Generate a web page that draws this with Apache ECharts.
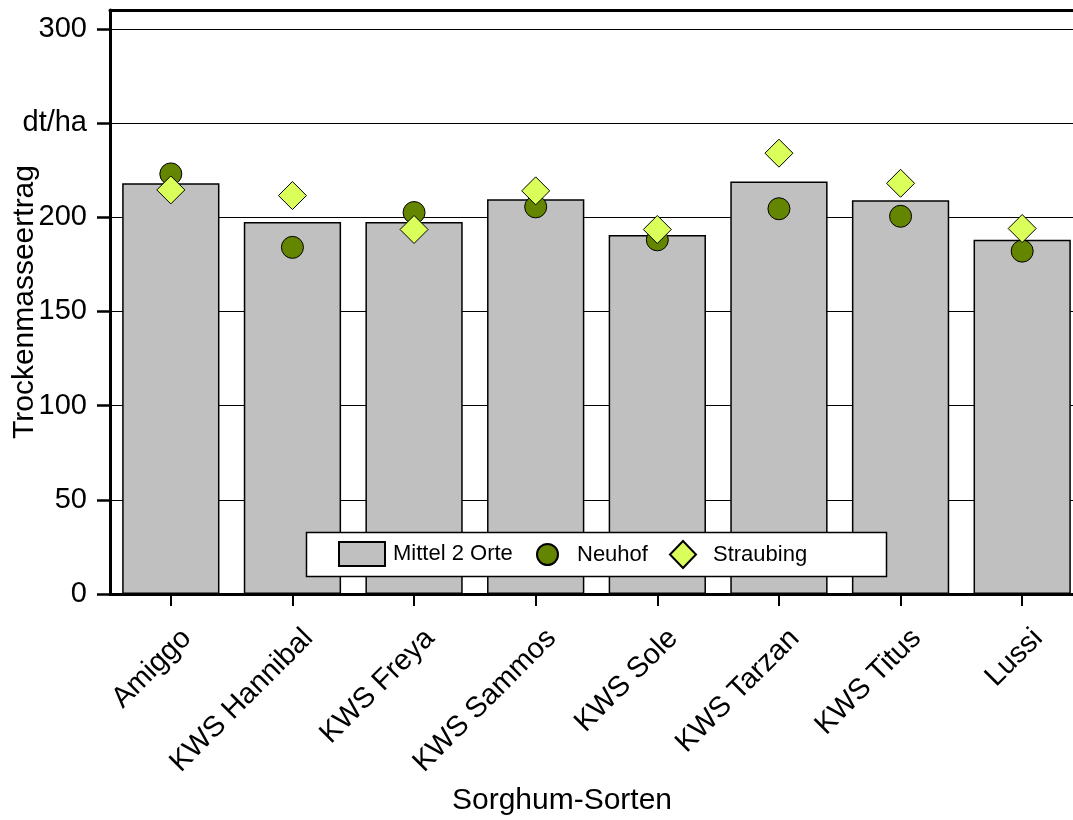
<!DOCTYPE html>
<html>
<head>
<meta charset="utf-8">
<script src="https://cdn.jsdelivr.net/npm/echarts@6/dist/echarts.min.js"></script>
<style>
html,body{margin:0;padding:0;background:#fff;}
#chart{width:1073px;height:820px;}
</style>
</head>
<body>
<div id="chart"></div>
<script>
const categories = ['Amiggo','KWS Hannibal','KWS Freya','KWS Sammos','KWS Sole','KWS Tarzan','KWS Titus','Lussi'];
const mittel = [218, 197.5, 197.5, 209.5, 190.5, 219, 209, 188];
const neuhof = [223, 184, 202.5, 205.5, 188, 204.5, 200.5, 182];
const straubing = [214.5, 211.5, 193.5, 214, 193.5, 234, 218, 194];
const yTickValues = [0, 50, 100, 150, 200, 250, 300];
const yTickLabels = ['0', '50', '100', '150', '200', 'dt/ha', '300'];

const FONT = 'Liberation Sans, Arial, Helvetica, sans-serif';
const chart = echarts.init(document.getElementById('chart'), null, {renderer:'canvas'});
const legendBase = {
  orient:'horizontal', padding:0, itemGap:0, z:20,
  textStyle:{fontSize:22, color:'#000', fontFamily:FONT},
  selectedMode:false
};
chart.setOption({
  animation:false,
  backgroundColor:'#fff',
  textStyle:{fontFamily:FONT},
  grid:{left:110, top:10, right:-10, bottom:226, containLabel:false, outerBoundsMode:'none'},
  legend:[
    Object.assign({}, legendBase, {
      left:338, top:541, itemWidth:46, itemHeight:24,
      data:[{name:'Mittel 2 Orte', icon:'rect'}],
      textStyle:{fontSize:22, color:'#000', fontFamily:FONT, padding:[0,0,0,3]}
    }),
    Object.assign({}, legendBase, {
      left:536, top:543, itemWidth:21, itemHeight:21,
      data:[{name:'Neuhof', icon:'circle'}],
      textStyle:{fontSize:22, color:'#000', fontFamily:FONT, padding:[0,0,0,14]}
    }),
    Object.assign({}, legendBase, {
      left:669, top:540, itemWidth:26, itemHeight:27,
      data:[{name:'Straubing', icon:'diamond'}],
      textStyle:{fontSize:22, color:'#000', fontFamily:FONT, padding:[0,0,0,12]}
    })
  ],
  xAxis:[{
    type:'category', data:categories, boundaryGap:true,
    axisLine:{show:true, lineStyle:{color:'#000', width:3}},
    axisTick:{show:true, alignWithLabel:true, length:12, lineStyle:{color:'#000', width:2}},
    axisLabel:{rotate:45, fontSize:29, color:'#000', margin:24, fontFamily:FONT, interval:0,
      verticalAlign:'top', padding:[8,0,0,0]},
    splitLine:{show:false}
  },{
    type:'category', data:categories, position:'top',
    axisLine:{show:true, lineStyle:{color:'#000', width:3}},
    axisTick:{show:false}, axisLabel:{show:false}, splitLine:{show:false}
  }],
  yAxis:{
    type:'value', min:0, max:310, interval:50,
    name:'Trockenmasseertrag', nameLocation:'middle', nameGap:70, nameRotate:90,
    nameMoveOverlap:false,
    nameTextStyle:{fontSize:30, color:'#000', fontFamily:FONT},
    axisLine:{show:true, lineStyle:{color:'#000', width:3}},
    axisTick:{show:true, inside:false, length:13, customValues:yTickValues, lineStyle:{color:'#000', width:2.5}},
    axisLabel:{fontSize:29, color:'#000', margin:23, fontFamily:FONT, customValues:yTickValues,
      formatter:function(v){ const i = yTickValues.indexOf(v); return i >= 0 ? yTickLabels[i] : ''; }},
    splitLine:{show:true, lineStyle:{color:'#000', width:1}}
  },
  graphic:[{
    type:'rect', z:10, silent:true,
    shape:{x:306.5, y:532.5, width:580, height:44},
    style:{fill:'#fff', stroke:'#000', lineWidth:1.5}
  },{
    type:'text', z:10, silent:true,
    style:{text:'Sorghum-Sorten', x:562, y:801, align:'center', verticalAlign:'middle',
      font:'30px ' + FONT, fill:'#000'}
  }],
  series:[{
    name:'Mittel 2 Orte', type:'bar', data:mittel, barWidth:'80%',
    itemStyle:{color:'#C0C0C0', borderColor:'#000', borderWidth:1.5}
  },{
    name:'Neuhof', type:'scatter', data:neuhof, symbol:'circle', symbolSize:22,
    itemStyle:{color:'#648500', borderColor:'#000', borderWidth:1, opacity:1}, z:3
  },{
    name:'Straubing', type:'scatter', data:straubing, symbol:'diamond', symbolSize:28,
    itemStyle:{color:'#DAFF5A', borderColor:'#000', borderWidth:1, opacity:1}, z:4
  }]
});
</script>
</body>
</html>
